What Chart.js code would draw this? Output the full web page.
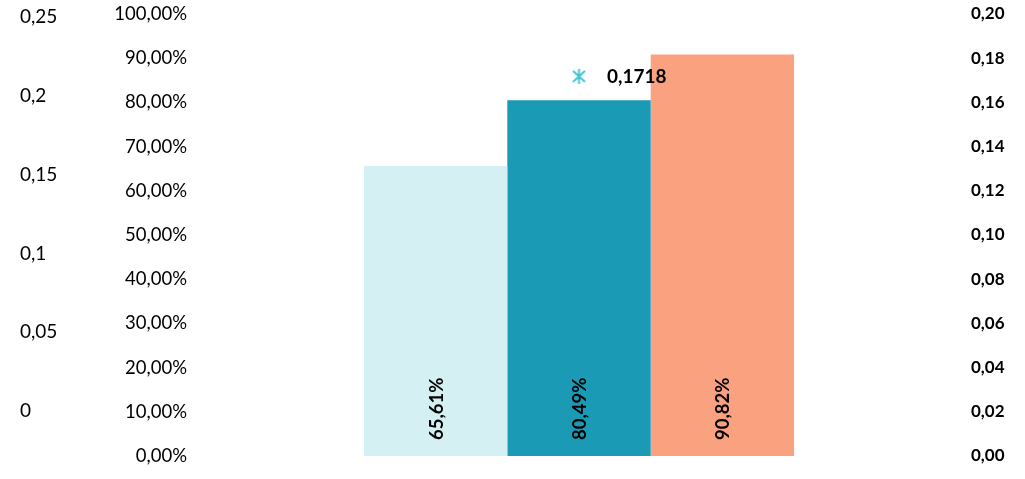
<!DOCTYPE html>
<html>
<head>
<meta charset="utf-8">
<script src="https://cdn.jsdelivr.net/npm/chart.js@4"></script>
<style>
html,body{margin:0;padding:0;background:#fff;}
#wrap{width:1025px;height:479px;position:relative;}
</style>
</head>
<body>
<div id="wrap"><canvas id="c"></canvas></div>
<script>
// ---- data ----
const categories = [''];
const barNames = ['Série 1', 'Série 2', 'Série 3'];
const barValues = [65.61, 80.49, 90.82];           // percent axis
const barColors = ['#D4F0F2', '#1A9AB5', '#FAA17F'];
const markerValues = [0.1718];                      // right axis
const markerLabels = ['0,1718'];
const farTickValues = [0, 0.05, 0.1, 0.15, 0.2, 0.25];
const farTickLabels = ['0', '0,05', '0,1', '0,15', '0,2', '0,25'];

const FONT = 'Lato, "Liberation Sans", sans-serif';

// star marker image
function makeStar(color) {
  const s = 17, c = document.createElement('canvas');
  c.width = s; c.height = s;
  const g = c.getContext('2d');
  g.strokeStyle = color; g.lineWidth = 2; g.lineCap = 'butt';
  g.beginPath();
  g.moveTo(8.5, 1); g.lineTo(8.5, 16);
  g.moveTo(2.5, 3); g.lineTo(14.5, 14);
  g.moveTo(14.5, 3); g.lineTo(2.5, 14);
  g.stroke();
  return c;
}

const datasets = barValues.map((v, i) => ({
  type: 'bar',
  label: barNames[i],
  data: [v],
  backgroundColor: barColors[i],
  borderWidth: 0,
  yAxisID: 'yPct',
  categoryPercentage: 0.563,
  barPercentage: 1,
  order: 2
}));
datasets.push({
  type: 'line',
  label: 'Marker',
  data: markerValues,
  yAxisID: 'yRight',
  showLine: false,
  pointStyle: makeStar('#3FC4D4'),
  pointRadius: 8,
  order: 1
});

const labelPlugin = {
  id: 'valueLabels',
  afterDatasetsDraw(chart) {
    const ctx = chart.ctx;
    ctx.save();
    ctx.fillStyle = '#000';
    ctx.font = 'bold 18.5px ' + FONT;
    barValues.forEach((v, i) => {
      const el = chart.getDatasetMeta(i).data[0];
      ctx.save();
      ctx.translate(el.x, el.base - 16);
      ctx.rotate(-Math.PI / 2);
      ctx.textAlign = 'left';
      ctx.textBaseline = 'middle';
      ctx.fillText(v.toFixed(2).replace('.', ',') + '%', 0, 1);
      ctx.restore();
    });
    ctx.font = 'bold 19px ' + FONT;
    const pm = chart.getDatasetMeta(barValues.length);
    pm.data.forEach((p, j) => {
      ctx.textAlign = 'left';
      ctx.textBaseline = 'middle';
      ctx.fillText(markerLabels[j], p.x + 28, p.y + 1);
    });
    ctx.restore();
  }
};

function noPad(s) { s.paddingTop = 0; s.paddingBottom = 0; }

new Chart(document.getElementById('c'), {
  data: { labels: categories, datasets },
  plugins: [labelPlugin],
  options: {
    responsive: true,
    maintainAspectRatio: false,
    animation: false,
    layout: { padding: { left: 20, right: 0, top: 14, bottom: 23 } },
    plugins: { legend: { display: false }, tooltip: { enabled: false } },
    scales: {
      x: { display: false },
      yFar: {
        position: 'left',
        weight: 2,
        min: -0.028553,
        max: 0.251904,
        grid: { display: false, drawTicks: false },
        border: { display: false },
        afterBuildTicks(s) { s.ticks = farTickValues.map(v => ({ value: v })); },
        afterFit(s) { s.width = 80; noPad(s); },
        ticks: {
          crossAlign: 'far',
          padding: 0,
          color: '#000',
          font: { family: FONT, size: 19 },
          callback: (v) => { const k = farTickValues.findIndex(t => Math.abs(t - v) < 1e-9); return k >= 0 ? farTickLabels[k] : ''; }
        }
      },
      yPct: {
        position: 'left',
        weight: 1,
        min: 0,
        max: 100,
        grid: { display: false, drawTicks: false },
        border: { display: false },
        afterFit(s) { s.width = 97; noPad(s); },
        ticks: {
          stepSize: 10,
          padding: 10,
          color: '#000',
          font: { family: FONT, size: 18.5 },
          callback: (v) => v.toFixed(2).replace('.', ',') + '%'
        }
      },
      yRight: {
        position: 'right',
        min: 0,
        max: 0.2,
        grid: { display: false, drawTicks: false },
        border: { display: false },
        afterFit(s) { s.width = 64; noPad(s); },
        ticks: {
          stepSize: 0.02,
          padding: 10,
          color: '#000',
          font: { family: FONT, size: 17, weight: 'bold' },
          callback: (v) => v.toFixed(2).replace('.', ',')
        }
      }
    }
  }
});
</script>
</body>
</html>
